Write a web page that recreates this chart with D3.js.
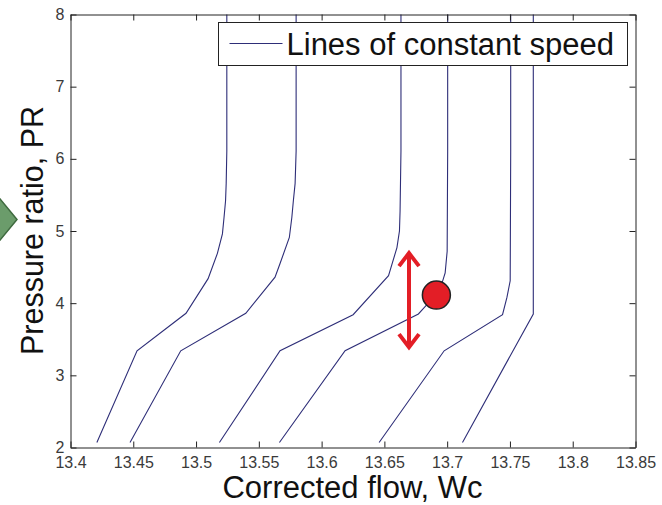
<!DOCTYPE html>
<html>
<head>
<meta charset="utf-8">
<script src="https://cdn.jsdelivr.net/npm/d3@7"></script>
<style>
  body { margin: 0; background: #fff; }
  svg { display: block; font-family: "Liberation Sans", Arial, sans-serif; }
</style>
</head>
<body>
<div id="chart"></div>
<script>
// Tick values
const flowTicks = [13.4, 13.45, 13.5, 13.55, 13.6, 13.65, 13.7, 13.75, 13.8, 13.85];
const prTicks = [2, 3, 4, 5, 6, 7, 8];

// Lines of constant speed: [corrected flow, pressure ratio]
const speed1 = [[13.421, 2.07], [13.453, 3.34], [13.492, 3.86], [13.5096, 4.34], [13.517, 4.69],
  [13.521, 4.96], [13.5223, 5.19], [13.5235, 5.42], [13.524, 5.66], [13.5245, 6.11], [13.5245, 8]];
const speed2 = [[13.4474, 2.07], [13.4878, 3.34], [13.5396, 3.86], [13.5629, 4.36], [13.5669, 4.55],
  [13.5743, 4.91], [13.5763, 5.19], [13.5775, 5.42], [13.5789, 5.66], [13.5797, 6.11], [13.5797, 8]];
const speed3 = [[13.5186, 2.07], [13.5669, 3.34], [13.6251, 3.84], [13.6533, 4.38], [13.66, 4.77],
  [13.662, 5.0], [13.6625, 5.28], [13.6632, 6.11], [13.6632, 8]];
const speed4 = [[13.5664, 2.07], [13.6187, 3.34], [13.6771, 3.85], [13.6865, 4.03], [13.6952, 4.24],
  [13.6984, 4.42], [13.7, 4.72], [13.7004, 6.11], [13.7004, 8]];
const speed5 = [[13.6458, 2.07], [13.6976, 3.34], [13.7441, 3.84], [13.7476, 4.08], [13.7502, 4.31],
  [13.7506, 6.11], [13.7506, 8]];
const speed6 = [[13.7122, 2.07], [13.7686, 3.85], [13.7686, 8]];
const speedLines = [speed1, speed2, speed3, speed4, speed5, speed6];

// Operating point and its up/down arrow
const pointFlow = 13.6918;
const pointPR = 4.105;
const arrowFlow = 13.67;
const arrowPR = [3.37, 4.70];

const width = 662, height = 505;
const svg = d3.select("#chart").append("svg")
  .attr("width", width)
  .attr("height", height);

const x = d3.scaleLinear().domain([13.4, 13.85]).range([70, 635]);
const y = d3.scaleLinear().domain([2, 8]).range([447, 14]);

const g = svg.append("g").attr("transform", "translate(0.5,0.5)");

// Green diamond peeking in from the left edge
svg.append("path")
  .attr("d", "M-13,183 L17,219.5 L-13,256 L-43,219.5 Z")
  .attr("fill", "#6b9c6b")
  .attr("stroke", "#3f6a3f")
  .attr("stroke-width", 1.5);

// Speed lines
const line = d3.line().x(d => x(d[0])).y(d => y(d[1]));
g.selectAll(".speed")
  .data(speedLines)
  .enter()
  .append("path")
  .attr("class", "speed")
  .attr("d", line)
  .attr("fill", "none")
  .attr("stroke", "#2e2e78")
  .attr("stroke-width", 1.1);

// Axes, MATLAB style: inward ticks on all four sides
const tickFont = sel => sel.selectAll("text")
  .attr("font-size", 16)
  .attr("fill", "#3a3a3a")
  .attr("font-family", "Liberation Sans, Arial, sans-serif");

g.append("g")
  .attr("transform", `translate(0,${y(2)})`)
  .call(d3.axisBottom(x).tickValues(flowTicks).tickFormat(d3.format("")).tickSizeInner(-6).tickSizeOuter(0).tickPadding(9))
  .call(tickFont);
g.append("g")
  .attr("transform", `translate(0,${y(8)})`)
  .call(d3.axisTop(x).tickValues(flowTicks).tickFormat("").tickSizeInner(-6).tickSizeOuter(0));
g.append("g")
  .attr("transform", `translate(${x(13.4)},0)`)
  .call(d3.axisLeft(y).tickValues(prTicks).tickFormat(d3.format("d")).tickSizeInner(-6).tickSizeOuter(0).tickPadding(6))
  .call(tickFont);
g.append("g")
  .attr("transform", `translate(${x(13.85)},0)`)
  .call(d3.axisRight(y).tickValues(prTicks).tickFormat("").tickSizeInner(-6).tickSizeOuter(0));
g.selectAll(".domain").attr("stroke", "#222");
g.selectAll(".tick line").attr("stroke", "#222");

// Axis titles
svg.append("text")
  .attr("x", (x(13.4) + x(13.85)) / 2)
  .attr("y", 498)
  .attr("text-anchor", "middle")
  .attr("font-size", 31)
  .attr("fill", "#111")
  .text("Corrected flow, Wc");
svg.append("text")
  .attr("transform", `translate(43,${(y(2) + y(8)) / 2}) rotate(-90)`)
  .attr("text-anchor", "middle")
  .attr("font-size", 30.5)
  .attr("fill", "#111")
  .text("Pressure ratio, PR");

// Legend
const legend = g.append("g");
legend.append("rect")
  .attr("x", 218).attr("y", 22)
  .attr("width", 409).attr("height", 43)
  .attr("fill", "#fff")
  .attr("stroke", "#222");
legend.append("line")
  .attr("x1", 229).attr("x2", 282)
  .attr("y1", 43).attr("y2", 43)
  .attr("stroke", "#2e2e78")
  .attr("stroke-width", 1.1);
legend.append("text")
  .attr("x", 286).attr("y", 54)
  .attr("font-size", 31)
  .attr("fill", "#111")
  .text("Lines of constant speed");

// Red double-headed arrow
const ax = x(arrowFlow), ayLow = y(arrowPR[0]), ayHigh = y(arrowPR[1]);
const red = "#e31e26";
svg.append("line")
  .attr("x1", ax).attr("x2", ax)
  .attr("y1", ayHigh + 1).attr("y2", ayLow - 1)
  .attr("stroke", red).attr("stroke-width", 4);
svg.append("path")
  .attr("d", `M${ax - 10},${ayHigh + 14} L${ax},${ayHigh + 1} L${ax + 10},${ayHigh + 14}`)
  .attr("fill", "none").attr("stroke", red).attr("stroke-width", 4);
svg.append("path")
  .attr("d", `M${ax - 10},${ayLow - 14} L${ax},${ayLow - 1} L${ax + 10},${ayLow - 14}`)
  .attr("fill", "none").attr("stroke", red).attr("stroke-width", 4);

// Operating point
svg.append("circle")
  .attr("cx", x(pointFlow))
  .attr("cy", y(pointPR))
  .attr("r", 14)
  .attr("fill", red)
  .attr("stroke", "#222")
  .attr("stroke-width", 1.5);
</script>
</body>
</html>
